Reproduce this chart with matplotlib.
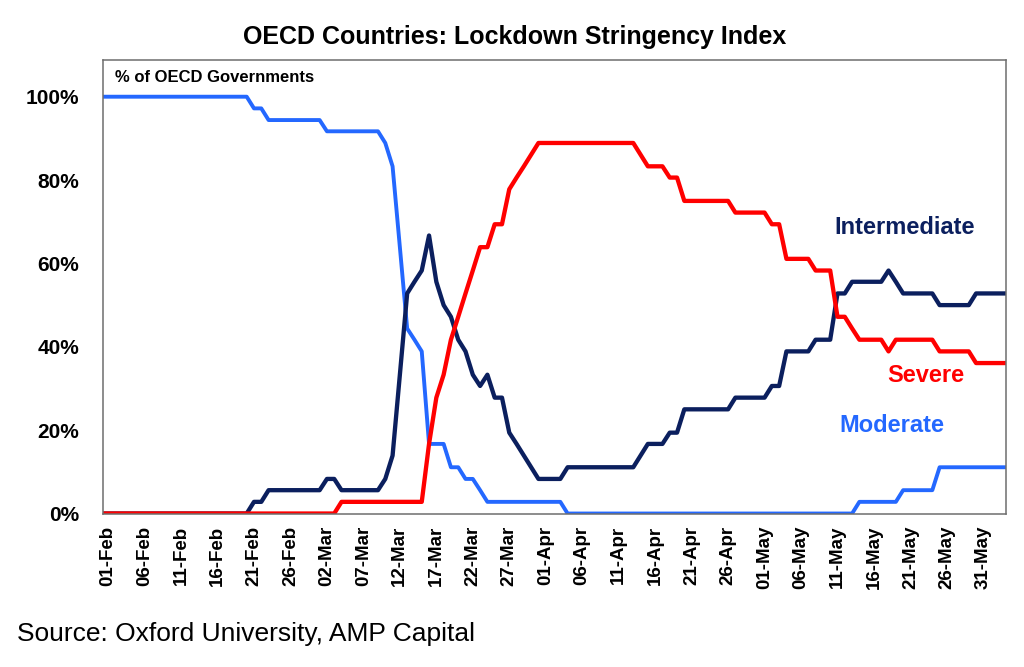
import matplotlib
matplotlib.use("Agg")
import matplotlib.pyplot as plt
import numpy as np
import pandas as pd

plt.rcParams["font.family"] = ["Liberation Sans", "DejaVu Sans"]

# daily share of OECD governments (%), 31-Jan-2020 .. 03-Jun-2020
dates = pd.date_range("2020-01-31", "2020-06-03", freq="D")

moderate = [
    100.0,  # 31-Jan
    100.0, 100.0, 100.0, 100.0, 100.0, 100.0, 100.0, 100.0, 100.0, 100.0,  # 01-Feb
    100.0, 100.0, 100.0, 100.0, 100.0, 100.0, 100.0, 100.0, 100.0, 100.0,  # 11-Feb
    97.2, 97.2, 94.4, 94.4, 94.4, 94.4, 94.4, 94.4, 94.4, 94.4,  # 21-Feb
    91.7, 91.7, 91.7, 91.7, 91.7, 91.7, 91.7, 91.7, 88.9, 83.3,  # 02-Mar
    63.9, 44.4, 41.7, 38.9, 16.7, 16.7, 16.7, 11.1, 11.1, 8.3,  # 12-Mar
    8.3, 5.6, 2.8, 2.8, 2.8, 2.8, 2.8, 2.8, 2.8, 2.8,  # 22-Mar
    2.8, 2.8, 2.8, 0.0, 0.0, 0.0, 0.0, 0.0, 0.0, 0.0,  # 01-Apr
    0.0, 0.0, 0.0, 0.0, 0.0, 0.0, 0.0, 0.0, 0.0, 0.0,  # 11-Apr
    0.0, 0.0, 0.0, 0.0, 0.0, 0.0, 0.0, 0.0, 0.0, 0.0,  # 21-Apr
    0.0, 0.0, 0.0, 0.0, 0.0, 0.0, 0.0, 0.0, 0.0, 0.0,  # 01-May
    0.0, 0.0, 0.0, 2.8, 2.8, 2.8, 2.8, 2.8, 2.8, 5.6,  # 11-May
    5.6, 5.6, 5.6, 5.6, 11.1, 11.1, 11.1, 11.1, 11.1, 11.1,  # 21-May
    11.1, 11.1, 11.1, 11.1,  # 31-May
]

intermediate = [
    0.0,  # 31-Jan
    0.0, 0.0, 0.0, 0.0, 0.0, 0.0, 0.0, 0.0, 0.0, 0.0,  # 01-Feb
    0.0, 0.0, 0.0, 0.0, 0.0, 0.0, 0.0, 0.0, 0.0, 0.0,  # 11-Feb
    2.8, 2.8, 5.6, 5.6, 5.6, 5.6, 5.6, 5.6, 5.6, 5.6,  # 21-Feb
    8.3, 8.3, 5.6, 5.6, 5.6, 5.6, 5.6, 5.6, 8.3, 13.9,  # 02-Mar
    33.3, 52.8, 55.6, 58.3, 66.7, 55.6, 50.0, 47.2, 41.7, 38.9,  # 12-Mar
    33.3, 30.6, 33.3, 27.8, 27.8, 19.4, 16.7, 13.9, 11.1, 8.3,  # 22-Mar
    8.3, 8.3, 8.3, 11.1, 11.1, 11.1, 11.1, 11.1, 11.1, 11.1,  # 01-Apr
    11.1, 11.1, 11.1, 13.9, 16.7, 16.7, 16.7, 19.4, 19.4, 25.0,  # 11-Apr
    25.0, 25.0, 25.0, 25.0, 25.0, 25.0, 27.8, 27.8, 27.8, 27.8,  # 21-Apr
    27.8, 30.6, 30.6, 38.9, 38.9, 38.9, 38.9, 41.7, 41.7, 41.7,  # 01-May
    52.8, 52.8, 55.6, 55.6, 55.6, 55.6, 55.6, 58.3, 55.6, 52.8,  # 11-May
    52.8, 52.8, 52.8, 52.8, 50.0, 50.0, 50.0, 50.0, 50.0, 52.8,  # 21-May
    52.8, 52.8, 52.8, 52.8,  # 31-May
]

severe = [
    0.0,  # 31-Jan
    0.0, 0.0, 0.0, 0.0, 0.0, 0.0, 0.0, 0.0, 0.0, 0.0,  # 01-Feb
    0.0, 0.0, 0.0, 0.0, 0.0, 0.0, 0.0, 0.0, 0.0, 0.0,  # 11-Feb
    0.0, 0.0, 0.0, 0.0, 0.0, 0.0, 0.0, 0.0, 0.0, 0.0,  # 21-Feb
    0.0, 0.0, 2.8, 2.8, 2.8, 2.8, 2.8, 2.8, 2.8, 2.8,  # 02-Mar
    2.8, 2.8, 2.8, 2.8, 16.7, 27.8, 33.3, 41.7, 47.2, 52.8,  # 12-Mar
    58.3, 63.9, 63.9, 69.4, 69.4, 77.8, 80.6, 83.3, 86.1, 88.9,  # 22-Mar
    88.9, 88.9, 88.9, 88.9, 88.9, 88.9, 88.9, 88.9, 88.9, 88.9,  # 01-Apr
    88.9, 88.9, 88.9, 86.1, 83.3, 83.3, 83.3, 80.6, 80.6, 75.0,  # 11-Apr
    75.0, 75.0, 75.0, 75.0, 75.0, 75.0, 72.2, 72.2, 72.2, 72.2,  # 21-Apr
    72.2, 69.4, 69.4, 61.1, 61.1, 61.1, 61.1, 58.3, 58.3, 58.3,  # 01-May
    47.2, 47.2, 44.4, 41.7, 41.7, 41.7, 41.7, 38.9, 41.7, 41.7,  # 11-May
    41.7, 41.7, 41.7, 41.7, 38.9, 38.9, 38.9, 38.9, 38.9, 36.1,  # 21-May
    36.1, 36.1, 36.1, 36.1,  # 31-May
]

C_MOD = "#2468FF"
C_INT = "#0B1F5E"
C_SEV = "#FF0000"

fig = plt.figure(figsize=(10.24, 6.67), dpi=100)
ax = fig.add_axes([0.1006, 0.2301, 0.8818, 0.6799])

pos = np.arange(len(dates))
ax.plot(pos, moderate, color=C_MOD, lw=2.8, solid_joinstyle="round")
ax.plot(pos, intermediate, color=C_INT, lw=3.1, solid_joinstyle="round")
ax.plot(pos, severe, color=C_SEV, lw=3.1, solid_joinstyle="round")

ax.set_xlim(0.3, 124.1)
ax.set_ylim(0, 108.8)

ticks = pos[1::5]
ax.set_xticks(ticks)
ax.set_xticklabels([d.strftime("%d-%b") for d in dates[1::5]], rotation=90,
                   fontsize=13.5, fontweight="bold")
ax.set_yticks([0, 20, 40, 60, 80, 100])
ax.set_yticklabels(["0%", "20%", "40%", "60%", "80%", "100%"], fontsize=15, fontweight="bold")
ax.tick_params(axis="both", length=0)
ax.tick_params(axis="x", pad=9)
ax.tick_params(axis="y", pad=17)

for s in ax.spines.values():
    s.set_color("#6e6e6e")
    s.set_linewidth(1.1)

ax.text(0.013, 0.962, "% of OECD Governments", transform=ax.transAxes,
        fontsize=12, fontweight="bold", va="center", ha="left")

ax.text(110.2, 68.7, "Intermediate", color=C_INT, fontsize=17, fontweight="bold", ha="center", va="center")
ax.text(113.1, 33.2, "Severe", color=C_SEV, fontsize=17, fontweight="bold", ha="center", va="center")
ax.text(108.5, 21.0, "Moderate", color=C_MOD, fontsize=17, fontweight="bold", ha="center", va="center")

fig.text(515 / 1024, 1 - 37 / 667, "OECD Countries: Lockdown Stringency Index",
         fontsize=18, fontweight="bold", ha="center", va="center")
fig.text(17 / 1024, 1 - 634 / 667, "Source: Oxford University, AMP Capital",
         fontsize=19, ha="left", va="center")

fig.savefig("out.png", dpi=100)
